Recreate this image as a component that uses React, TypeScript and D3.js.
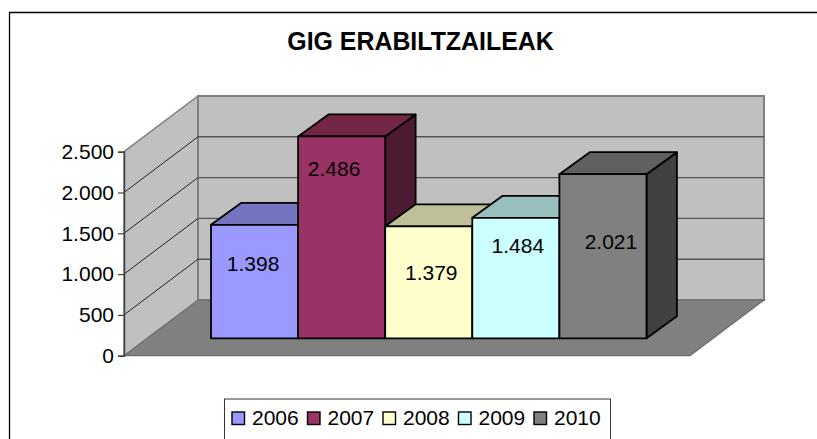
import React, { useEffect, useRef } from "react";
import * as d3 from "d3";

const title = "GIG ERABILTZAILEAK";
const years = ["2006", "2007", "2008", "2009", "2010"];
const users = [1398, 2486, 1379, 1484, 2021];
const yTicks = [0, 500, 1000, 1500, 2000, 2500];
const frontColors = ["#9999FF", "#993366", "#FFFFCC", "#CCFFFF", "#808080"];
const topColors = ["#7373BF", "#732645", "#BFBF99", "#99BFBF", "#606060"];
const sideColors = ["#4D3380", "#4D1933", "#808066", "#668080", "#404040"];

const FONT = "'Liberation Sans', Arial, sans-serif";

// plot box: front of the floor plus how far the back wall is pushed
const floorLeft = 124;
const floorRight = 690;
const floorY = 355.7;
const wallHeight = 204;
const depthX = 74;
const depthY = -55.7;

// bars sit a bit inside the floor
const barBaseY = 338.3;
const barDepthX = 30.4;
const barDepthY = -22;

const y = d3.scaleLinear().domain([0, 2500]).range([floorY, floorY - wallHeight]);
const barHeight = d3.scaleLinear().domain([0, 2500]).range([0, 203]);
const x = d3.scaleBand().domain(years).range([211, 646.5]);

// excel put the labels wherever, these are dx/dy from the bar's front centre top
const labelShift = [
  [-1.5, 46],
  [-7.5, 39.5],
  [2.5, 53.5],
  [2, 35],
  [8, 75],
];

const fmt = d3.formatLocale({ decimal: ",", thousands: ".", grouping: [3], currency: ["", ""] }).format(",d");
const poly = d3.line();

const Axis = () => {
  const ref = useRef<SVGGElement>(null);
  useEffect(() => {
    const g = d3.select(ref.current);
    g.call(d3.axisLeft(y).tickValues(yTicks).tickFormat(d => fmt(d as number)).tickSize(6).tickPadding(4));
    g.select(".domain").attr("stroke", "#404040").attr("stroke-width", 1.5);
    g.selectAll(".tick line").attr("stroke", "#404040").attr("stroke-width", 1.2);
    g.selectAll("text").attr("fill", "#000").attr("font-family", FONT).attr("font-size", 21);
  }, []);
  return <g ref={ref} transform={`translate(${floorLeft},0)`} />;
};

export default function App() {
  const backL = floorLeft + depthX;
  const backR = floorRight + depthX;
  const gridTicks = yTicks.filter(t => t > 0 && t < 2500);
  return (
    <svg width={817} height={439} style={{ position: "absolute", left: 0, top: 0, background: "#fff" }}>
      <path d="M9.5,439V12.5H817" fill="none" stroke="#000" strokeWidth={1.3} />
      <text x={420.5} y={50} textAnchor="middle" fontFamily={FONT} fontWeight="bold" fontSize={24.9}>
        {title}
      </text>

      {/* walls and floor */}
      <path
        d={poly([[floorLeft, floorY], [floorLeft, y(2500)], [backL, y(2500) + depthY], [backL, floorY + depthY]])!}
        fill="#C0C0C0"
        stroke="#808080"
        strokeWidth={1.5}
      />
      <rect x={backL} y={y(2500) + depthY} width={backR - backL} height={wallHeight} fill="#C0C0C0" stroke="#808080" strokeWidth={2} />
      {gridTicks.map(t => (
        <g key={t}>
          <line x1={floorLeft} y1={y(t)} x2={backL} y2={y(t) + depthY} stroke="#111" strokeWidth={0.9} />
          <line x1={backL} y1={y(t) + depthY} x2={backR} y2={y(t) + depthY} stroke="#555" strokeWidth={1.4} />
        </g>
      ))}
      <path
        d={poly([[floorLeft, floorY], [floorRight, floorY], [backR, floorY + depthY], [backL, floorY + depthY]])! + "Z"}
        fill="#808080"
        stroke="#6a6a6a"
        strokeWidth={1.2}
      />
      <Axis />

      {/* bars, left to right so each one covers the previous side */}
      {users.map((v, i) => {
        const x0 = x(years[i])!;
        const x1 = x0 + x.bandwidth();
        const top = barBaseY - barHeight(v);
        return (
          <g key={years[i]} stroke="#000" strokeWidth={1.8} strokeLinejoin="round">
            <path
              d={poly([[x1, barBaseY], [x1, top], [x1 + barDepthX, top + barDepthY], [x1 + barDepthX, barBaseY + barDepthY]])! + "Z"}
              fill={sideColors[i]}
            />
            <path
              d={poly([[x0, top], [x1, top], [x1 + barDepthX, top + barDepthY], [x0 + barDepthX, top + barDepthY]])! + "Z"}
              fill={topColors[i]}
            />
            <rect x={x0} y={top} width={x.bandwidth()} height={barBaseY - top} fill={frontColors[i]} />
          </g>
        );
      })}
      {users.map((v, i) => (
        <text
          key={years[i]}
          x={x(years[i])! + x.bandwidth() / 2 + labelShift[i][0]}
          y={barBaseY - barHeight(v) + labelShift[i][1]}
          textAnchor="middle"
          fontFamily={FONT}
          fontSize={21}
        >
          {fmt(v)}
        </text>
      ))}

      {/* legend runs off the bottom of the picture */}
      <rect x={224.5} y={399} width={386} height={50} fill="#fff" stroke="#333" strokeWidth={1} />
      {years.map((yr, i) => (
        <g key={yr} transform={`translate(${232 + i * 75.5},0)`}>
          <rect x={0} y={412} width={12.5} height={12.5} fill={frontColors[i]} stroke="#000" strokeWidth={1.4} />
          <text x={20} y={424.5} fontFamily={FONT} fontSize={21}>
            {yr}
          </text>
        </g>
      ))}
    </svg>
  );
}
